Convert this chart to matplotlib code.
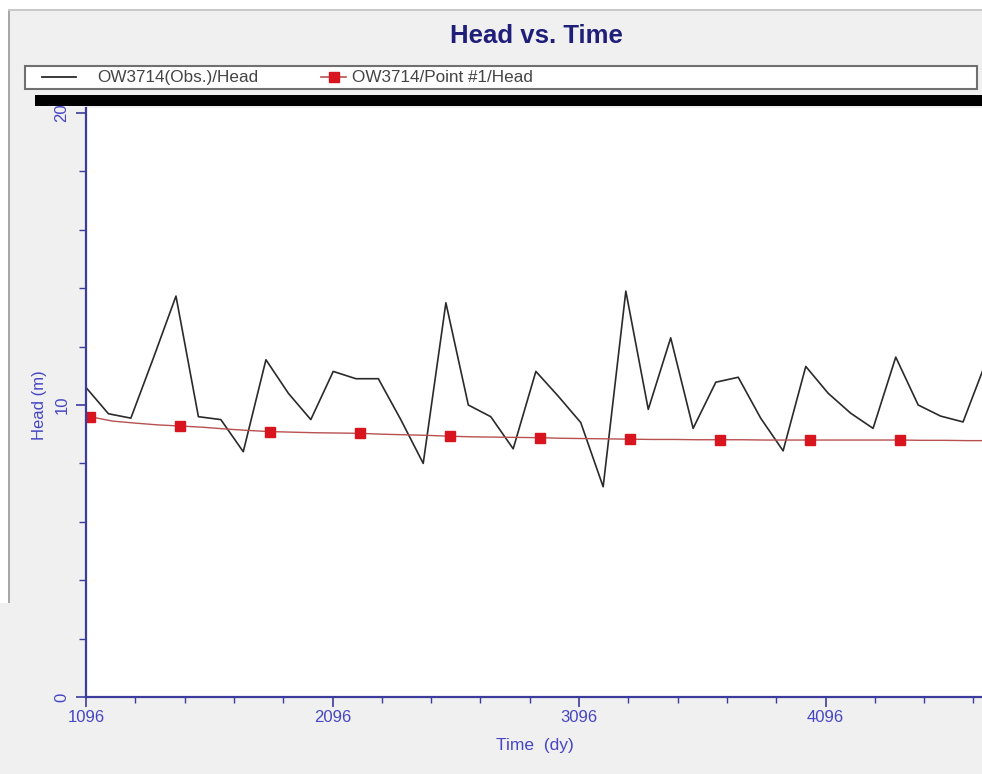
import numpy as np
import matplotlib
matplotlib.use("Agg")
import matplotlib.pyplot as plt
from matplotlib.patches import Rectangle
from matplotlib.lines import Line2D

plt.rcParams['font.family'] = ['Liberation Sans', 'DejaVu Sans']

# observed head, quarterly readings (days since start)
obs_time = [1096, 1187, 1278, 1369, 1461, 1552, 1643, 1734, 1826, 1917,
            2008, 2099, 2191, 2282, 2373, 2464, 2556, 2647, 2738, 2829,
            2921, 3012, 3103, 3194, 3286, 3377, 3468, 3559, 3651, 3742,
            3833, 3924, 4016, 4107, 4198, 4289, 4381, 4472, 4563, 4654, 4746]
obs_head = [10.6, 9.7, 9.55, 11.6, 13.73, 9.6, 9.5, 8.4, 11.55, 10.4,
            9.5, 11.15, 10.9, 10.9, 9.5, 8.0, 13.5, 10.0, 9.6, 8.5,
            11.15, 10.3, 9.4, 7.2, 13.9, 9.85, 12.3, 9.2, 10.78, 10.95,
            9.55, 8.43, 11.32, 10.4, 9.72, 9.2, 11.64, 10.0, 9.62, 9.42, 11.45]

# simulated head at point #1 (first value is the start of the run)
sim_time = [1096, 1112, 1203, 1295, 1386, 1477, 1568, 1660, 1751, 1842, 1933,
            2025, 2116, 2207, 2298, 2390, 2481, 2572, 2663, 2755, 2846,
            2937, 3028, 3120, 3211, 3302, 3393, 3485, 3576, 3667, 3758,
            3850, 3941, 4032, 4123, 4215, 4306, 4397, 4488, 4580, 4671, 4762]
sim_head = [9.63, 9.6, 9.45, 9.38, 9.32, 9.28, 9.24, 9.18, 9.13, 9.09, 9.07,
            9.05, 9.04, 9.03, 9.0, 8.98, 8.96, 8.93, 8.91, 8.9, 8.89,
            8.88, 8.86, 8.85, 8.84, 8.83, 8.82, 8.82, 8.81, 8.81, 8.81,
            8.8, 8.8, 8.8, 8.8, 8.8, 8.8, 8.8, 8.79, 8.79, 8.78, 8.78]

x_major = [1096, 2096, 3096, 4096]
y_major = [0, 10, 20]
legend_labels = ['OW3714(Obs.)/Head', 'OW3714/Point #1/Head']

W, H = 982, 774
fig = plt.figure(figsize=(W / 100, H / 100), dpi=100)
fig.patch.set_facecolor('#f0f0f0')

def px(x0, y0, x1, y1):
    # pixel box (top-left origin) -> figure fraction rect
    return (x0 / W, 1 - y1 / H, (x1 - x0) / W, (y1 - y0) / H)

def fx(x):
    return x / W

def fy(y):
    return 1 - y / H

# window border bits
for box, col in [((0, 0, W, 10), 'white'), ((0, 0, 8, 603), 'white'),
                 ((8, 10, 10, 603), '#a8a8a8'), ((8, 9, W, 11), '#c8c8c8')]:
    x, y, w, h = px(*box)
    fig.add_artist(Rectangle((x, y), w, h, transform=fig.transFigure,
                             facecolor=col, edgecolor='none'))

fig.text(fx(536), fy(36), 'Head vs. Time', ha='center', va='center',
         fontsize=18.5, fontweight='bold', color='#1f1f7a')

# legend frame and black bar under it
x, y, w, h = px(25, 66, 977, 89)
fig.add_artist(Rectangle((x, y), w, h, transform=fig.transFigure,
                         facecolor='white', edgecolor='#707070', linewidth=1.5))
x, y, w, h = px(35, 95, W, 106)
fig.add_artist(Rectangle((x, y), w, h, transform=fig.transFigure,
                         facecolor='black', edgecolor='none'))

# legend entries drawn by hand
fig.add_artist(Line2D([fx(42), fx(76)], [fy(77), fy(77)], transform=fig.transFigure,
                      color='#2a2a2a', linewidth=1.3))
fig.text(fx(97), fy(77.5), legend_labels[0], ha='left', va='center',
         fontsize=12.3, color='#444444')
fig.add_artist(Line2D([fx(321), fx(346)], [fy(77), fy(77)], transform=fig.transFigure,
                      color='#b85050', linewidth=1.2))
fig.add_artist(Line2D([fx(333.5)], [fy(77)], transform=fig.transFigure,
                      linestyle='none', marker='s', markersize=7.5,
                      markerfacecolor='#d8141e', markeredgecolor='#d8141e'))
fig.text(fx(352), fy(77.5), legend_labels[1], ha='left', va='center',
         fontsize=12.3, color='#444444')

ax = fig.add_axes(px(86, 108, W, 697))
ax.set_facecolor('white')

ax.plot(obs_time, obs_head, color='#2a2a2a', linewidth=1.2)
ax.plot(sim_time, sim_head, color='#b85050', linewidth=1.0,
        marker='s', markersize=7, markevery=slice(1, None, 4),
        markerfacecolor='#d8141e', markeredgecolor='#d8141e')

ax.set_xlim(1096, 1096 + 896 / 0.2465)
ax.set_ylim(0, 20 * 589 / 584)

ax.set_xticks(x_major)
ax.set_xticks(np.arange(1096, 4740, 200), minor=True)
ax.set_yticks(y_major)
ax.set_yticks(np.arange(0, 21, 2), minor=True)

blue = '#4646c4'
spine = '#3c3c9c'
for s in ['top', 'right']:
    ax.spines[s].set_visible(False)
for s in ['left', 'bottom']:
    ax.spines[s].set_color(spine)
    ax.spines[s].set_linewidth(1.6)

ax.tick_params(axis='x', which='major', length=7, width=1.2, color=spine,
               labelcolor=blue, labelsize=12, pad=2.5)
ax.tick_params(axis='x', which='minor', length=4, width=1.0, color=spine)
ax.tick_params(axis='y', which='major', length=7, width=1.2, color=spine,
               labelcolor=blue, labelsize=12, pad=5)
ax.tick_params(axis='y', which='minor', length=5, width=1.0, color=spine)
for lbl in ax.get_yticklabels():
    lbl.set_rotation(90)
    lbl.set_va('center')

ax.set_xlabel('Time  (dy)', color=blue, fontsize=12.5)
ax.xaxis.set_label_coords((535 - 86) / (W - 86), -0.07)
ax.set_ylabel('Head (m)', color=blue, fontsize=12)
ax.yaxis.set_label_coords(-0.044, (697 - 405) / (697 - 108))

fig.savefig('out.png', dpi=100, facecolor=fig.get_facecolor())
